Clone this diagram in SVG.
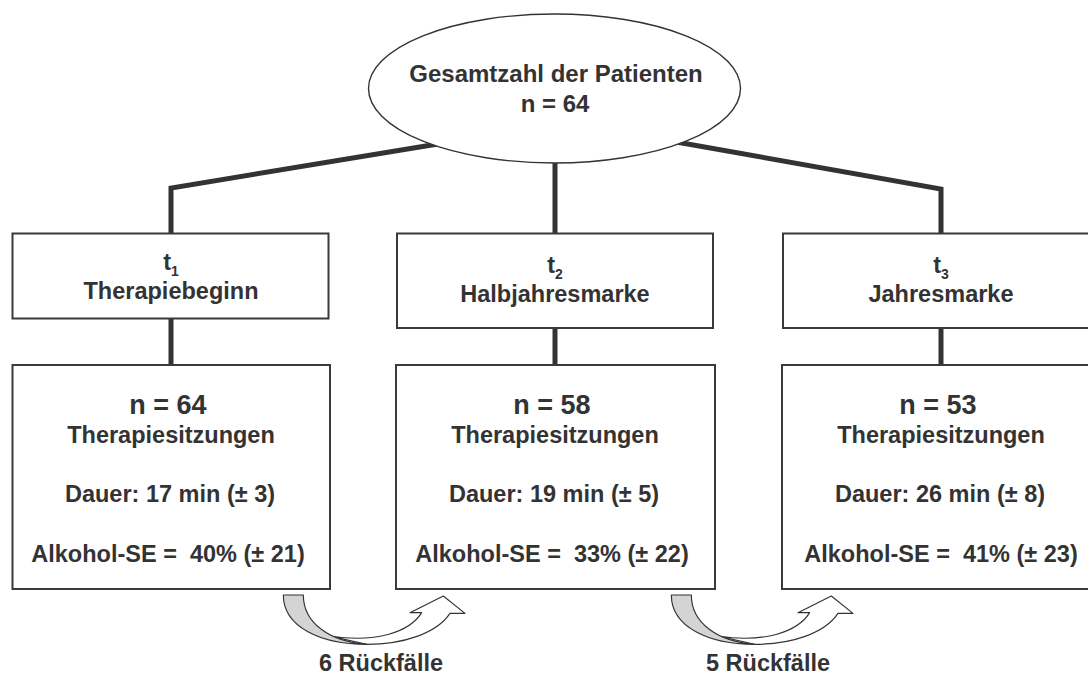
<svg xmlns="http://www.w3.org/2000/svg" width="1088" height="677" viewBox="0 0 1088 677">
<style>
text{font-family:"Liberation Sans",Arial,sans-serif;font-weight:bold;fill:#333;text-anchor:middle;font-size:23.5px}
.big{font-size:27px}
.sub{font-size:14px}
.box{fill:#fff;stroke:#3a3a3a;stroke-width:2}
.conn{fill:none;stroke:#333;stroke-width:5}
.arrW{fill:#fff;stroke:#333;stroke-width:3.5;stroke-linejoin:round}
.arrG{fill:#d4d4d4;stroke:#333;stroke-width:3.5;stroke-linejoin:round}
</style>
<defs>
<g id="curvedArrow">
<path class="arrW" d="M290,163 C400,163 500,130 540,70 L585,70 L520,18 L420,68 L455,68 C420,125 320,160 180,138 Z"/>
<path class="arrG" d="M40,15 L100,15 C100,100 180,155 290,163 C150,163 40,110 40,15 Z"/>
</g>
</defs>
<rect width="1088" height="677" fill="#fff"/>
<g id="connectors">
<polyline class="conn" points="450,142 171,188 171,233"/>
<polyline class="conn" points="665,140 941,189 941,233"/>
<line class="conn" x1="555" y1="150" x2="555" y2="233"/>
<line class="conn" x1="171" y1="318" x2="171" y2="365"/>
<line class="conn" x1="555" y1="328" x2="555" y2="365"/>
<line class="conn" x1="941" y1="328" x2="941" y2="365"/>
</g>
<g id="total">
<ellipse cx="554.5" cy="88.5" rx="186" ry="74.5" fill="#fff" stroke="#333" stroke-width="1.4"/>
<text x="556" y="82" style="font-size:24px">Gesamtzahl der Patienten</text>
<text x="555" y="112" style="font-size:24px">n = 64</text>
</g>
<g id="t1">
<rect class="box" x="12.5" y="233.5" width="316" height="85"/>
<text x="171" y="270">t<tspan class="sub" dy="6">1</tspan></text>
<text x="171" y="299">Therapiebeginn</text>
</g>
<g id="t2">
<rect class="box" x="397" y="233.5" width="316" height="94.5"/>
<text x="555" y="273">t<tspan class="sub" dy="6">2</tspan></text>
<text x="555" y="302">Halbjahresmarke</text>
</g>
<g id="t3">
<rect class="box" x="783" y="233.5" width="320" height="94.5"/>
<text x="941" y="273">t<tspan class="sub" dy="6">3</tspan></text>
<text x="941" y="302">Jahresmarke</text>
</g>
<g id="s1">
<rect class="box" x="12.5" y="365" width="317.5" height="224"/>
<text class="big" x="168" y="414">n = 64</text>
<text x="171" y="443">Therapiesitzungen</text>
<text x="170" y="502">Dauer: 17 min (± 3)</text>
<text x="168" y="562" xml:space="preserve">Alkohol-SE =  40% (± 21)</text>
</g>
<g id="s2">
<rect class="box" x="396" y="365" width="319" height="224"/>
<text class="big" x="552" y="414">n = 58</text>
<text x="555" y="443">Therapiesitzungen</text>
<text x="554" y="502">Dauer: 19 min (± 5)</text>
<text x="552" y="562" xml:space="preserve">Alkohol-SE =  33% (± 22)</text>
</g>
<g id="s3">
<rect class="box" x="782" y="365" width="330" height="224"/>
<text class="big" x="938" y="414">n = 53</text>
<text x="941" y="443">Therapiesitzungen</text>
<text x="940" y="502">Dauer: 26 min (± 8)</text>
<text x="941" y="562" xml:space="preserve">Alkohol-SE =  41% (± 23)</text>
</g>
<g id="relapse1">
<use href="#curvedArrow" transform="translate(270,590) scale(0.3333)"/>
<text x="381" y="671">6 Rückfälle</text>
</g>
<g id="relapse2">
<use href="#curvedArrow" transform="translate(658,590) scale(0.3333)"/>
<text x="768" y="671">5 Rückfälle</text>
</g>
</svg>
